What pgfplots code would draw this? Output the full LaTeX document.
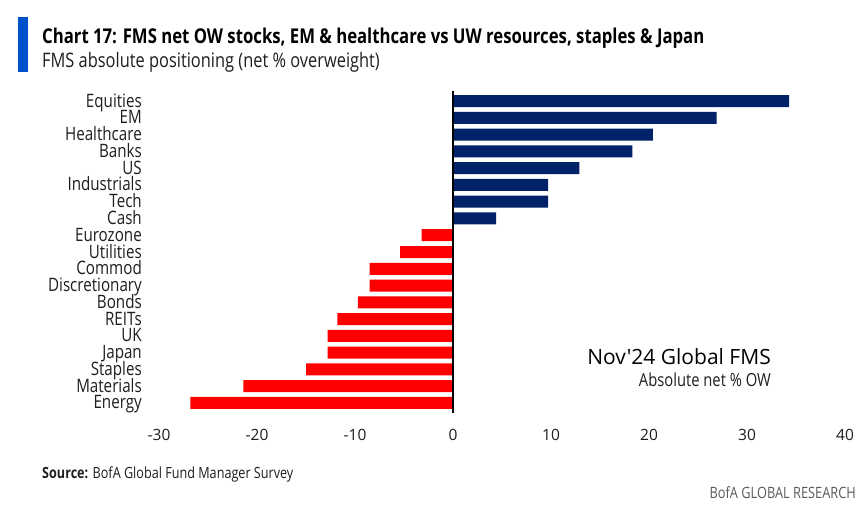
\documentclass[border=0pt]{standalone}
\usepackage{pgfplots}
\pgfplotsset{compat=1.18}
\usepackage{fontspec}
\setmainfont{Open Sans}[FakeStretch=0.82]
\newfontfamily\plainfont{Open Sans}
\definecolor{bofanavy}{RGB}{1,33,105}
\definecolor{bofared}{RGB}{255,0,0}
\definecolor{bofablue}{RGB}{0,82,204}
\definecolor{txtdark}{RGB}{30,30,30}
\definecolor{txtgray}{RGB}{90,90,90}

% Net % overweight by asset class (positive = OW, negative = UW)
\pgfplotstableread{
pos val
0  34.3
1  26.9
2  20.4
3  18.3
4  12.9
5  9.7
6  9.7
7  4.4
}\owtable
\pgfplotstableread{
pos val
8  -3.2
9  -5.4
10 -8.5
11 -8.5
12 -9.7
13 -11.8
14 -12.8
15 -12.8
16 -15.0
17 -21.4
18 -26.8
}\uwtable

\begin{document}
\begin{tikzpicture}[x=1pt,y=1pt]
% page frame
\path (0,0) rectangle (866,506);
% header
\fill[bofablue] (18,434) rectangle (28,489);
\node[anchor=base west,inner sep=0,text=black] at (42,462)
  {\fontsize{20.4}{23}\selectfont\bfseries Chart 17: FMS net OW stocks, EM \& healthcare vs UW resources, staples \& Japan};
\node[anchor=base west,inner sep=0,text=txtdark] at (42,438)
  {\fontsize{20}{23}\selectfont FMS absolute positioning (net \% overweight)};

\begin{axis}[
  at={(159pt,94pt)}, anchor=south west,
  scale only axis, width=686pt, height=320pt,
  xmin=-30, xmax=40, ymin=-0.55, ymax=18.55,
  y dir=reverse,
  axis line style={draw=none},
  major tick length=0pt,
  xtick={-30,-20,...,40},
  ytick={0,...,18},
  yticklabels={Equities,EM,Healthcare,Banks,US,Industrials,Tech,Cash,Eurozone,Utilities,Commod,Discretionary,Bonds,REITs,UK,Japan,Staples,Materials,Energy},
  /pgf/number format/assume math mode=true,
  xticklabel style={font=\plainfont\fontsize{15.5}{18}\selectfont, text=txtdark, yshift=-14pt},
  yticklabel style={font=\fontsize{18.5}{19}\selectfont, text=txtdark, xshift=-17pt, yshift=-2pt, inner sep=0pt, text height=10pt, text depth=2pt},
  clip=false,
]
\addplot[xbar, bar width=12pt, bar shift=0pt, fill=bofanavy, draw=none] table[x=val,y=pos] {\owtable};
\addplot[xbar, bar width=12pt, bar shift=0pt, fill=bofared, draw=none] table[x=val,y=pos] {\uwtable};
\draw[black, line width=1.3pt] (axis cs:0,-0.6) -- (axis cs:0,18.6);
\end{axis}

% in-plot caption
\node[anchor=base east,inner sep=0,text=black] at (771,142)
  {\plainfont\fontsize{21}{25}\selectfont Nov'24 Global FMS};
\node[anchor=base east,inner sep=0,text=txtdark] at (771,120)
  {\fontsize{18}{20}\selectfont Absolute net \% OW};

% footer
\node[anchor=base west,inner sep=0,text=txtdark] at (42,28)
  {\fontsize{15.4}{17}\selectfont\textbf{Source:} BofA Global Fund Manager Survey};
\node[anchor=base east,inner sep=0,text=txtgray] at (856,8)
  {\fontsize{15.6}{17}\selectfont BofA GLOBAL RESEARCH};
\end{tikzpicture}
\end{document}
